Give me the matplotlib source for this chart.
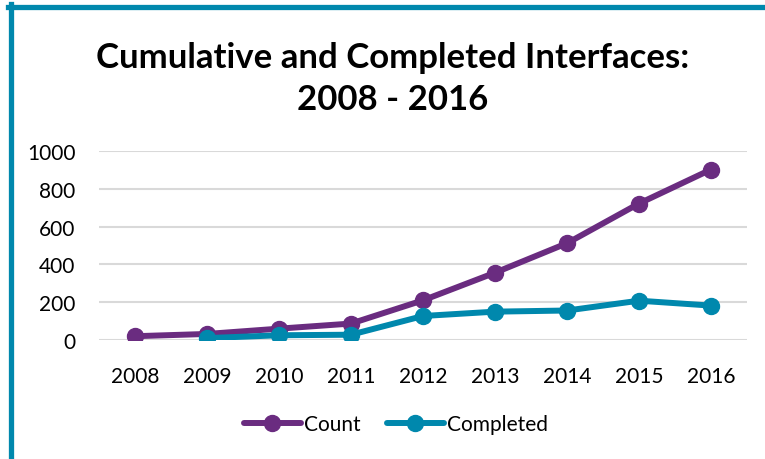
import matplotlib
matplotlib.use('Agg')
import matplotlib.pyplot as plt
from matplotlib.lines import Line2D

plt.rcParams['font.family'] = ['Lato', 'DejaVu Sans']

years = ['2008', '2009', '2010', '2011', '2012', '2013', '2014', '2015', '2016']
count = [20, 32, 60, 87, 210, 356, 512, 722, 902]
completed = [None, 10, 25, 28, 127, 150, 156, 208, 182]

purple = '#6a2c80'
teal = '#0088ad'

fig = plt.figure(figsize=(7.65, 4.6), dpi=100)
ax = fig.add_axes([99/765, 1-341/460, (747-99)/765, (341-152)/460])

x = list(range(len(years)))
ax.plot(x, count, color=purple, lw=4.3, marker='o', ms=11.5, label='Count', solid_capstyle='round')
xc = [i for i, v in zip(x, completed) if v is not None]
yc = [v for v in completed if v is not None]
ax.plot(xc, yc, color=teal, lw=4.3, marker='o', ms=11.5, label='Completed', solid_capstyle='round')

ax.set_xlim(-0.5, 8.5)
ax.set_ylim(0, 1000)
ax.set_yticks(range(0, 1001, 200))
ax.set_xticks(x)
ax.set_xticklabels(years)
ax.grid(axis='y', color='#d9d9d9', lw=1.5)
ax.set_axisbelow(True)
for s in ax.spines.values():
    s.set_visible(False)
ax.tick_params(length=0, labelsize=15, colors='black')
ax.tick_params(axis='x', pad=19)
ax.tick_params(axis='y', pad=17)

fig.text(393/765, 1-58/460, 'Cumulative and Completed Interfaces:', ha='center', va='center',
         fontsize=25, fontweight='bold')
fig.text(393/765, 1-100/460, '2008 - 2016', ha='center', va='center',
         fontsize=25, fontweight='bold')

fig.legend(loc='center', bbox_to_anchor=(396/765, 1-425/460), ncol=2, frameon=False,
           fontsize=15, handlelength=2.7, handletextpad=0.15, columnspacing=1.3)

# frame border (top and left)
fig.add_artist(Line2D([10.5/765, 10.5/765], [0, 1-5/460], color=teal, lw=3.8, transform=fig.transFigure))
fig.add_artist(Line2D([8/765, 1], [1-7.5/460, 1-7.5/460], color=teal, lw=3.8, transform=fig.transFigure))

fig.savefig('out.png', dpi=100)
